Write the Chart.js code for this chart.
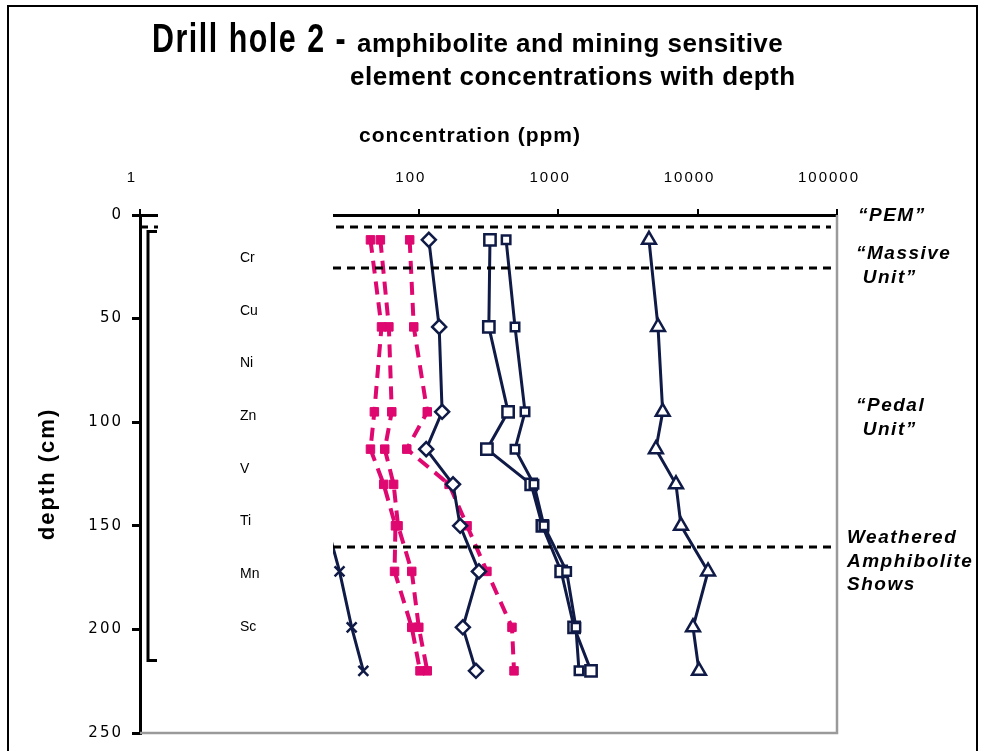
<!DOCTYPE html>
<html>
<head>
<meta charset="utf-8">
<script src="https://cdn.jsdelivr.net/npm/chart.js@4.4.1/dist/chart.umd.min.js"></script>
<style>
  html, body { margin: 0; padding: 0; background: #fff; }
  #wrap { width: 982px; height: 751px; position: relative; }
</style>
</head>
<body>
<div id="wrap"><canvas id="c" width="982" height="751"></canvas></div>
<script>
// Sample depths down the hole (cm)
const depths = [12, 54, 95, 113, 130, 150, 172, 199, 220];

// Element concentrations (ppm) at each depth
const cr = [118, 140, 147, 113, 176, 198, 270, 207, 257];
const cu = [45, 54, 48, 45, 56, 68, 67, 89, 102];
const ni = [53, 61, 64, 57, 66, 71, 89, 100, 115];
const zn = [86, 92, 115, 82, 165, 222, 308, 466, 482];
const v  = [423, 490, 578, 490, 670, 790, 1150, 1340, 1410];
const ti = [4480, 5200, 5620, 5020, 7000, 7600, 11880, 9270, 10230];
const mn = [324, 318, 437, 308, 640, 770, 1050, 1300, 1720];
const sc = [15, 16, 15, 16, 17, 22, 27, 33, 40];

const elementNames = ['Cr', 'Cu', 'Ni', 'Zn', 'V', 'Ti', 'Mn', 'Sc'];
const concentrationTicks = [1, 10, 100, 1000, 10000, 100000];
const depthTicks = [0, 50, 100, 150, 200, 250];

// Unit boundaries (cm) and unit names
const unitBoundaries = [6, 25.5, 160];
const unitNames = [
  ['\u201CPEM\u201D'],
  ['\u201CMassive', ' Unit\u201D'],
  ['\u201CPedal', ' Unit\u201D'],
  ['Weathered', 'Amphibolite', 'Shows']
];
const sampledInterval = [8, 215];

const NAVY = '#0f1a46';
const PINK = '#de0870';

function points(values) {
  return values.map((val, i) => ({ x: val, y: depths[i] }));
}
function navySeries(label, values, pointStyle, radius) {
  return {
    label, data: points(values), showLine: true,
    borderColor: NAVY, borderWidth: 3,
    pointStyle, pointRadius: radius,
    pointBackgroundColor: '#fff', pointBorderColor: NAVY, pointBorderWidth: 2.5
  };
}
function pinkSeries(label, values) {
  return {
    label, data: points(values), showLine: true,
    borderColor: PINK, borderWidth: 4, borderDash: [13, 8],
    pointStyle: 'rect', pointRadius: 6,
    pointBackgroundColor: PINK, pointBorderColor: PINK, pointBorderWidth: 1
  };
}

const datasets = [
  navySeries(elementNames[0], cr, 'rectRot', 7),
  pinkSeries(elementNames[1], cu),
  pinkSeries(elementNames[2], ni),
  pinkSeries(elementNames[3], zn),
  navySeries(elementNames[4], v, 'rect', 6),
  navySeries(elementNames[5], ti, 'triangle', 8),
  navySeries(elementNames[6], mn, 'rect', 8),
  navySeries(elementNames[7], sc, 'crossRot', 7)
];

const decor = {
  id: 'decor',
  beforeDraw(chart) { chart.ctx.letterSpacing = '2px'; },
  beforeDatasetsDraw(chart) { chart.ctx.letterSpacing = '0px'; },
  afterDatasetsDraw(chart) {
    const { ctx, chartArea: a, scales: { y } } = chart;
    const keyLeft = a.left + 18, keyRight = a.left + 193;
    ctx.save();
    ctx.letterSpacing = '0px';

    // unit boundaries (the uppermost one runs the full width)
    ctx.strokeStyle = '#000';
    ctx.lineWidth = 3;
    ctx.setLineDash([8, 6]);
    unitBoundaries.forEach((d, i) => {
      const py = Math.round(y.getPixelForValue(d));
      ctx.beginPath();
      ctx.moveTo(i === 0 ? a.left : keyRight, py);
      ctx.lineTo(a.right - 6, py);
      ctx.stroke();
    });
    ctx.setLineDash([]);

    // right and bottom plot borders
    ctx.strokeStyle = '#9a9a9a';
    ctx.lineWidth = 2.5;
    ctx.beginPath();
    ctx.moveTo(a.left, a.bottom);
    ctx.lineTo(a.right, a.bottom);
    ctx.lineTo(a.right, a.top);
    ctx.stroke();

    // element key panel
    ctx.fillStyle = '#fff';
    ctx.fillRect(keyLeft, 165, keyRight - keyLeft, 540);
    ctx.fillStyle = '#000';
    ctx.font = '14px "Liberation Sans", Arial, sans-serif';
    ctx.textAlign = 'left';
    ctx.textBaseline = 'middle';
    elementNames.forEach((n, i) => ctx.fillText(n, a.left + 100, 258 + i * 52.7));

    // sampled interval bracket
    const t = y.getPixelForValue(sampledInterval[0]);
    const b = y.getPixelForValue(sampledInterval[1]);
    ctx.strokeStyle = '#000';
    ctx.lineWidth = 3;
    ctx.beginPath();
    ctx.moveTo(a.left + 17, t);
    ctx.lineTo(a.left + 8, t);
    ctx.lineTo(a.left + 8, b);
    ctx.lineTo(a.left + 17, b);
    ctx.stroke();

    // unit names
    ctx.font = 'italic bold 19px "Liberation Sans", Arial, sans-serif';
    ctx.letterSpacing = '1.5px';
    ctx.textBaseline = 'middle';
    const anchors = [
      { d: 0.5, x: a.right + 21 },
      { d: 18.8, x: a.right + 19 },
      { d: 92.3, x: a.right + 19 },
      { d: 156, x: a.right + 10 }
    ];
    unitNames.forEach((lines, k) => {
      const y0 = y.getPixelForValue(anchors[k].d);
      lines.forEach((s, j) => ctx.fillText(s, anchors[k].x, y0 + j * 23.5));
    });
    ctx.restore();
  },
  afterDraw(chart) {
    const { ctx } = chart;
    ctx.save();
    ctx.fillStyle = '#000';
    ctx.textBaseline = 'alphabetic';
    ctx.textAlign = 'left';

    // main title
    ctx.save();
    ctx.translate(152, 52);
    ctx.scale(0.76, 1);
    ctx.letterSpacing = '2px';
    ctx.font = 'bold 40px "Liberation Sans", Arial, sans-serif';
    ctx.fillText('Drill hole 2 -', 0, 0);
    ctx.restore();

    ctx.letterSpacing = '0.5px';
    ctx.font = 'bold 26px "Liberation Sans", Arial, sans-serif';
    ctx.fillText('amphibolite and mining sensitive', 357, 52);
    ctx.fillText('element concentrations with depth', 350, 85);

    // concentration axis title
    ctx.letterSpacing = '1px';
    ctx.font = 'bold 21px "Liberation Sans", Arial, sans-serif';
    ctx.textAlign = 'center';
    ctx.fillText('concentration (ppm)', 470, 142);

    // outer frame
    ctx.letterSpacing = '0px';
    ctx.strokeStyle = '#000';
    ctx.lineWidth = 2;
    ctx.strokeRect(8, 6, 969, 760);
    ctx.restore();
  }
};

new Chart(document.getElementById('c'), {
  type: 'scatter',
  data: { datasets },
  options: {
    responsive: false,
    animation: false,
    events: [],
    layout: { padding: { left: 10, top: 120, right: 145, bottom: 16 } },
    plugins: { legend: { display: false }, tooltip: { enabled: false } },
    scales: {
      x: {
        type: 'logarithmic',
        position: 'top',
        min: 1, max: 100000,
        afterFit(s) { s.height = 95; },
        afterBuildTicks(s) { s.ticks = concentrationTicks.map(value => ({ value })); },
        ticks: {
          color: '#000',
          font: { family: '"Liberation Sans", Arial, sans-serif', size: 15 },
          padding: 22,
          labelOffset: -8,
          maxRotation: 0,
          autoSkip: false,
          callback: val => String(val)
        },
        grid: { drawOnChartArea: false, drawTicks: true, tickLength: 6, color: '#000', lineWidth: 2 },
        border: { display: true, color: '#000', width: 3 }
      },
      y: {
        type: 'linear',
        reverse: true,
        min: 0, max: 250,
        afterFit(s) { s.width = 130; },
        afterBuildTicks(s) { s.ticks = depthTicks.map(value => ({ value })); },
        ticks: {
          color: '#000',
          font: { family: '"DejaVu Sans", sans-serif', size: 15 },
          padding: 9
        },
        grid: { drawOnChartArea: false, drawTicks: true, tickLength: 8, color: '#000', lineWidth: 3 },
        border: { display: true, color: '#000', width: 3 },
        title: {
          display: true,
          text: 'depth (cm)',
          color: '#000',
          font: { family: '"Liberation Sans", Arial, sans-serif', size: 22, weight: 'bold' },
          padding: { top: 25, bottom: 0 }
        }
      }
    }
  },
  plugins: [decor]
});
</script>
</body>
</html>
